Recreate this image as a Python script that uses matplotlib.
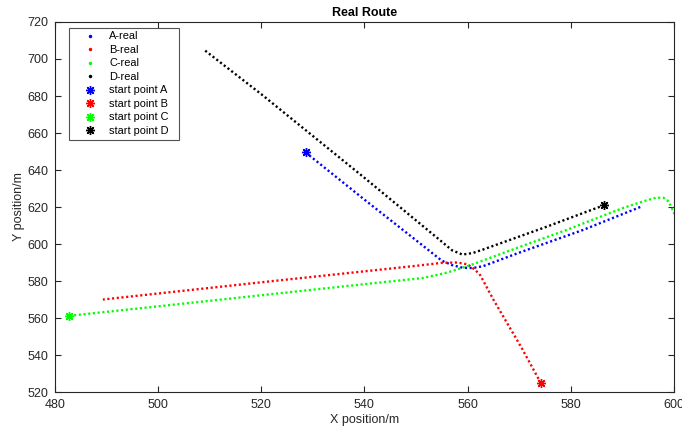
import matplotlib
matplotlib.use("Agg")
import matplotlib.pyplot as plt
from matplotlib.lines import Line2D

plt.rcParams["font.family"] = ["Liberation Sans", "DejaVu Sans"]
plt.rcParams["font.size"] = 9

# waypoints (x, y in metres)
a_x = [528.6, 540.0, 550.8, 555.0, 557.0, 559.0, 561.0, 563.0, 570.0, 582.4, 593.5]
a_y = [649.5, 624.0, 600.3, 591.0, 588.6, 587.2, 587.0, 588.0, 595.3, 607.6, 620.0]

b_x = [574.2, 570.5, 565.0, 562.5, 561.5, 560.0, 558.0, 555.0, 550.0, 520.0, 489.3]
b_y = [524.9, 543.8, 570.0, 583.0, 586.0, 589.0, 590.0, 589.8, 588.2, 579.3, 570.0]

c_x = [482.8, 500.0, 520.0, 540.0, 551.3, 556.0, 560.5, 570.0, 579.2, 590.0, 594.0,
       596.5, 598.0, 599.0, 600.5]
c_y = [561.2, 566.3, 572.3, 578.3, 581.6, 584.5, 588.5, 598.3, 607.6, 619.3, 623.0,
       625.0, 625.0, 623.0, 614.0]

d_x = [586.5, 575.0, 565.0, 563.0, 561.0, 559.0, 557.0, 554.6, 540.0, 520.0, 508.9]
d_y = [621.0, 609.0, 599.0, 597.0, 595.1, 594.3, 596.6, 602.2, 635.8, 681.0, 705.0]

names = ["A", "B", "C", "D"]
colors = ["b", "r", "#00ff00", "k"]
paths = [(a_x, a_y), (b_x, b_y), (c_x, c_y), (d_x, d_y)]

# MATLAB-like asterisk (+ and x)
star = (8, 2, 0)

fig = plt.figure(figsize=(6.82, 4.28), dpi=100)
ax = fig.add_axes([0.0806, 0.0841, 0.9074, 0.8645])

for (px, py), col in zip(paths, colors):
    ax.plot(px, py, color=col, lw=1.7, linestyle=(0, (0.9, 1.1)))
for (px, py), col in zip(paths, colors):
    ax.plot(px[0], py[0], marker=star, color=col, ms=6.5, mew=1.0, ls="none")

ax.set_xlim(480, 600)
ax.set_ylim(520, 720)
ax.set_xticks(range(480, 601, 20))
ax.set_yticks(range(520, 721, 20))
ax.tick_params(direction="in", top=True, right=True, length=4, colors="#262626",
               labelsize=9, labelcolor="#262626", pad=5)
for s in ax.spines.values():
    s.set_color("#262626")
    s.set_linewidth(0.8)

ax.set_xlabel("X position/m", color="#262626", labelpad=2)
ax.set_ylabel("Y position/m", color="#262626", labelpad=1.5)
ax.set_title("Real Route", fontweight="bold", fontsize=9, pad=4)

handles = []
labels = []
for n, col in zip(names, colors):
    handles.append(Line2D([], [], ls="none", marker=".", color=col, ms=3))
    labels.append(n + "-real")
for n, col in zip(names, colors):
    handles.append(Line2D([], [], ls="none", marker=star, color=col, ms=6.5, mew=1.0))
    labels.append("start point " + n)
leg = ax.legend(handles, labels, loc="upper left",
                bbox_to_anchor=(0.0226, 0.985, 0.178, 0.0), mode="expand",
                fontsize=7.9, frameon=True, fancybox=False, edgecolor="#262626",
                handlelength=3.1, handletextpad=0.2, labelspacing=0.32,
                borderpad=0.35, borderaxespad=0)
leg.get_frame().set_linewidth(0.8)

fig.savefig("out.png", dpi=100)
